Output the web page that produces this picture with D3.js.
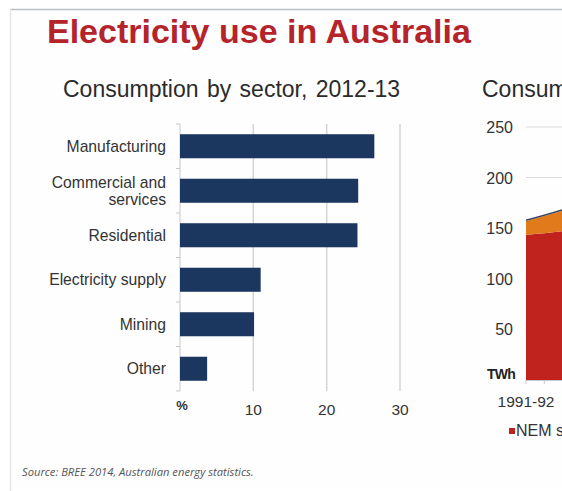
<!DOCTYPE html>
<html>
<head>
<meta charset="utf-8">
<script src="https://cdn.jsdelivr.net/npm/d3@7"></script>
<style>
  html, body { margin: 0; padding: 0; background: #ffffff; overflow: hidden; }
  svg { display: block; font-family: "Liberation Sans", Arial, sans-serif; }
</style>
</head>
<body>
<svg id="chart" width="562" height="491"></svg>
<script>
// Consumption by sector, 2012-13 (% of total)
const sectors = ["Manufacturing", "Commercial and\nservices", "Residential", "Electricity supply", "Mining", "Other"];
const sectorShare = [26.5, 24.3, 24.2, 11.0, 10.1, 3.7];
const shareTicks = [10, 20, 30];

// Consumption over time (TWh), stacked by region
const years = ["1991-92", "1992-93", "1993-94"];
const nemTWh = [143.5, 145, 147];
const swisTWh = [13.5, 17, 20.5];
const otherTWh = [1.5, 1.5, 1.5];
const twhTicks = [50, 100, 150, 200, 250];
const yearLabels = ["1991-92"];

const svg = d3.select("#chart");

// slide panel
svg.append("rect").attr("x", 0).attr("y", 0).attr("width", 562).attr("height", 491).attr("fill", "#ffffff");
svg.append("rect").attr("x", 10).attr("y", 9).attr("width", 560).attr("height", 480).attr("fill", "#fefefe");
svg.append("line").attr("x1", 10).attr("x2", 562).attr("y1", 9.5).attr("y2", 9.5).attr("stroke", "#b9bfc3").attr("stroke-width", 1.5);
svg.append("line").attr("x1", 10.5).attr("x2", 10.5).attr("y1", 9).attr("y2", 491).attr("stroke", "#e6e6e6").attr("stroke-width", 1.5);

// headline
svg.append("text").attr("x", 47).attr("y", 43)
  .attr("font-size", 34).attr("font-weight", "bold").attr("fill", "#b4242a")
  .text("Electricity use in Australia");

// sub-titles
svg.append("text").attr("x", 63).attr("y", 97)
  .attr("font-size", 23).attr("word-spacing", 2).attr("fill", "#2b2b2b")
  .text("Consumption by sector, 2012-13");
svg.append("text").attr("x", 482).attr("y", 97)
  .attr("font-size", 23).attr("word-spacing", 2).attr("fill", "#2b2b2b")
  .text("Consumption over time");

// ---- bar chart ----
const x = d3.scaleLinear().domain([0, 30]).range([180, 400]);
const y = d3.scaleBand().domain(sectors).range([124, 391]).paddingInner(0.46).paddingOuter(0.23);

const bar = svg.append("g");
bar.selectAll("line.grid").data(shareTicks).join("line")
  .attr("class", "grid")
  .attr("x1", d => x(d)).attr("x2", d => x(d))
  .attr("y1", 124).attr("y2", 391)
  .attr("stroke", "#d4d4d4").attr("stroke-width", 1.5);

// category axis with boundary ticks
bar.append("line").attr("x1", x(0)).attr("x2", x(0)).attr("y1", 124).attr("y2", 391)
  .attr("stroke", "#c8c8c8").attr("stroke-width", 1);
const bounds = d3.range(sectors.length + 1).map(i => 124 + i * y.step());
bar.selectAll("line.tick").data(bounds).join("line")
  .attr("class", "tick")
  .attr("x1", x(0) - 4).attr("x2", x(0))
  .attr("y1", d => d).attr("y2", d => d)
  .attr("stroke", "#c8c8c8").attr("stroke-width", 1);

bar.selectAll("rect.bar").data(sectors).join("rect")
  .attr("class", "bar")
  .attr("x", x(0))
  .attr("y", d => y(d))
  .attr("width", (d, i) => x(sectorShare[i]) - x(0))
  .attr("height", y.bandwidth())
  .attr("fill", "#1b365f");

bar.selectAll("text.cat").data(sectors).join("text")
  .attr("class", "cat")
  .attr("text-anchor", "end")
  .attr("font-size", 15.7).attr("fill", "#333333")
  .each(function (d) {
    const lines = d.split("\n");
    const cy = y(d) + y.bandwidth() / 2;
    const t = d3.select(this);
    lines.forEach((ln, k) => {
      t.append("tspan").attr("x", 166)
        .attr("y", cy + 5.5 + (k - (lines.length - 1) / 2) * 17)
        .text(ln);
    });
  });

bar.selectAll("text.xt").data(shareTicks).join("text")
  .attr("class", "xt")
  .attr("x", d => x(d)).attr("y", 415)
  .attr("text-anchor", "middle").attr("font-size", 15.5).attr("fill", "#333333")
  .text(d => d);
bar.append("text").attr("x", 182).attr("y", 410)
  .attr("text-anchor", "middle").attr("font-size", 13).attr("font-weight", "bold").attr("fill", "#333333")
  .text("%");

// ---- stacked area chart ----
const xi = d3.scaleLinear().domain([0, 1]).range([526, 544.3]);
const yt = d3.scaleLinear().domain([0, 250]).range([380, 127]);

const area = svg.append("g");
area.selectAll("line.grid").data(twhTicks).join("line")
  .attr("class", "grid")
  .attr("x1", 526).attr("x2", 562)
  .attr("y1", d => yt(d)).attr("y2", d => yt(d))
  .attr("stroke", "#d9d9d9").attr("stroke-width", 1);

const rows = years.map((yr, i) => ({ i, nem: nemTWh[i], swis: swisTWh[i], other: otherTWh[i] }));
const stacked = d3.stack().keys(["nem", "swis", "other"])(rows);
const fills = { nem: "#c0221e", swis: "#e07a1b", other: "#33405a" };
const areaGen = d3.area().x(d => xi(d.data.i)).y0(d => yt(d[0])).y1(d => yt(d[1]));
area.selectAll("path.layer").data(stacked).join("path")
  .attr("class", "layer")
  .attr("d", areaGen)
  .attr("fill", d => fills[d.key]);

area.append("line").attr("x1", 526).attr("x2", 562).attr("y1", yt(0) + 0.5).attr("y2", yt(0) + 0.5)
  .attr("stroke", "#c8c8c8");
area.selectAll("line.xtick").data(years).join("line")
  .attr("class", "xtick")
  .attr("x1", (d, i) => xi(i)).attr("x2", (d, i) => xi(i))
  .attr("y1", yt(0)).attr("y2", yt(0) + 4)
  .attr("stroke", "#c8c8c8");

area.selectAll("text.yt").data(twhTicks).join("text")
  .attr("class", "yt")
  .attr("x", 513).attr("y", d => yt(d) + 6)
  .attr("text-anchor", "end").attr("font-size", 16).attr("fill", "#333333")
  .text(d => d);
area.append("text").attr("x", 515).attr("y", 379)
  .attr("text-anchor", "end").attr("font-size", 14).attr("font-weight", "bold").attr("fill", "#222222")
  .attr("letter-spacing", -0.8)
  .text("TWh");
area.selectAll("text.xl").data(yearLabels).join("text")
  .attr("class", "xl")
  .attr("x", (d) => xi(years.indexOf(d))).attr("y", 407)
  .attr("text-anchor", "middle").attr("font-size", 15.5).attr("fill", "#333333")
  .text(d => d);

// legend
area.append("rect").attr("x", 509).attr("y", 428).attr("width", 6).attr("height", 6).attr("fill", "#c0221e");
area.append("text").attr("x", 516).attr("y", 436)
  .attr("font-size", 16).attr("fill", "#333333")
  .text("NEM states");

// source note
svg.append("text").attr("x", 22).attr("y", 476)
  .attr("font-family", "'Open Sans', 'DejaVu Sans', sans-serif")
  .attr("font-size", 11.2).attr("font-style", "italic").attr("fill", "#555555")
  .text("Source: BREE 2014, Australian energy statistics.");
</script>
</body>
</html>
